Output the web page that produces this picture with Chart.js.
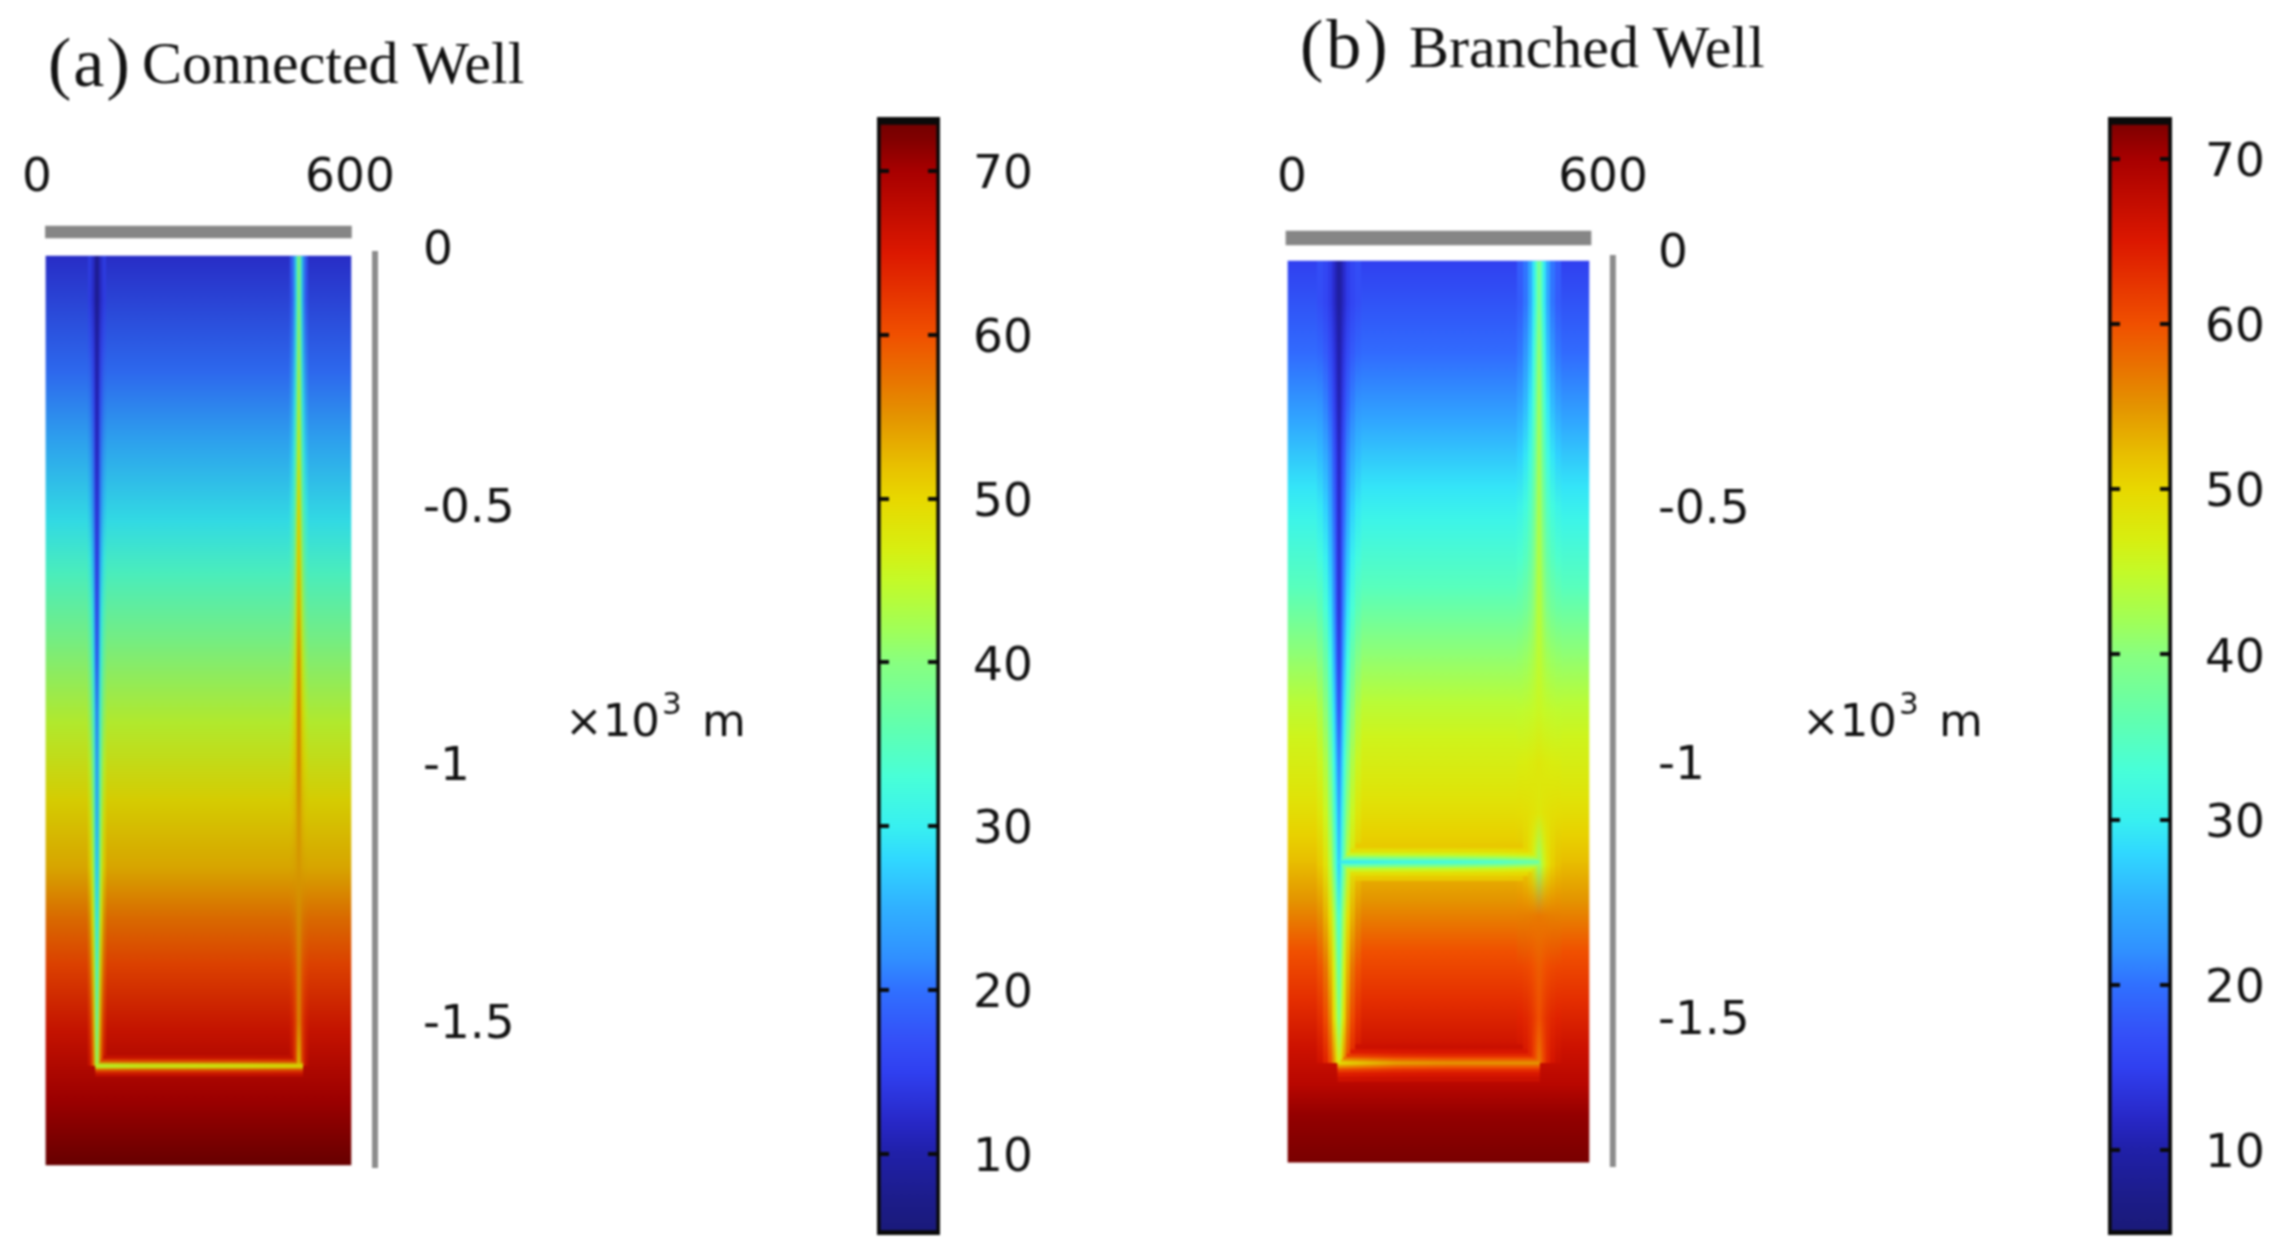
<!DOCTYPE html>
<html><head><meta charset="utf-8">
<script src="https://cdn.jsdelivr.net/npm/chart.js@4"></script>
<style>
html,body{margin:0;padding:0;background:#fff;width:2289px;height:1259px;overflow:hidden}
#page{position:absolute;left:0;top:0;width:2289px;height:1259px;filter:blur(0.8px)}
canvas{position:absolute}
.t{position:absolute;white-space:nowrap;line-height:1;color:#111}
.serif{font-family:"Liberation Serif",serif}
.sans{font-family:"DejaVu Sans",sans-serif}
sup{font-size:31px;position:relative;top:-22px;vertical-align:baseline;margin-left:2px;margin-right:6px}
</style></head><body><div id="page"></div>
<script>
// ---- colour scale (temperature -> colour)
const colorValues=[5,7,10,12,15,17,20,22,25,28,30,33,36,40,42,45,47,50,52,55,57,60,65,70,72,74];
const colorHexes=['#1a1a78','#1c1c88','#2020a8','#2828c8','#3040f0','#3450f8','#3070ff','#3090ff','#30b0ff','#30d8ff','#38f0f0','#48ffd8','#60ffb0','#88ff80','#a0ff58','#c4fa28','#d8ee10','#e8d800','#e8c000','#e49400','#e87800','#f05000','#dc1800','#a80000','#800000','#660000'];

// ---- tick labels
const depthTicks=[0,-0.5,-1,-1.5];
const widthTicks=[0,600];
const barTicks=[10,20,30,40,50,60,70];

// ---- panel (a) connected well
const aFarDepth=[0.015,0.24,0.37,0.53,0.63,0.76,0.92,1.07,1.2,1.3,1.39,1.52,1.65,1.78];
const aFarTemp=[13,20,24.5,29.5,34,39,44.5,49.5,53,57.5,61,66,70,73.5];
const wellDepth=[0,0.1,0.2,0.3,0.4,0.5,0.6,0.7,0.8,0.9,1.0,1.1,1.2,1.3,1.4,1.5,1.585];
const aInjectionTemp=[8,9,10.5,11.5,12.5,14,15,17,19,22,24.5,26,28,31,35,39,43];
const aProductionTemp=[36,39,41,43,45,48,50,52,54,55,55,54,54,55,56,56,52];
const aBottomX=[112,200,300,400,510];
const aBottomTemp=[45,46.5,47,48,49.5];

// ---- panel (b) branched well
const bFarDepth=[0.02,0.2,0.33,0.46,0.526,0.657,0.786,0.88,0.95,1.07,1.14,1.19,1.27,1.37,1.465,1.56,1.63,1.69,1.785];
const bFarTemp=[15,19.5,24,29,31,35,40.5,44,46,48.5,50.5,52,55,60,63,66.5,68.5,71,72.6];
const bInjectionTemp=[8,9,10,10.5,11.5,12,12.5,13,14.5,17,21,24,27,33,36,39,46];
const bProductionTemp=[37,39,41,42,42.5,43,43.5,44,44.5,45.5,48,48,41,57,59,60,57];
const bBranchX=[90,200,300,400,478];
const bBranchTemp=[29,31,32,34,37];
const bBottomX=[88,200,300,400,478];
const bBottomTemp=[49,54,55,55,55];

// ---- halo bands round a well: [line width, share of the surrounding temperature]
const aBands=[[18,0.9],[12,0.7],[7,0.4],[3.5,0]];
const bBands=[[44,0.95],[32,0.85],[22,0.68],[14,0.45],[8,0.22],[3,0]];

function hexRgb(h){return [1,3,5].map(i=>parseInt(h.substr(i,2),16));}
function lookup(xs,ys,v){
  if(v<=xs[0])return ys[0];
  for(let i=1;i<xs.length;i++)if(v<=xs[i]){const f=(v-xs[i-1])/(xs[i]-xs[i-1]);return ys[i-1]+(ys[i]-ys[i-1])*f;}
  return ys[ys.length-1];
}
function cm(T,gain){
  let i=1;while(i<colorValues.length-1&&T>colorValues[i])i++;
  const f=Math.max(0,Math.min(1,(T-colorValues[i-1])/(colorValues[i]-colorValues[i-1])));
  const a=hexRgb(colorHexes[i-1]),b=hexRgb(colorHexes[i]);
  const c=a.map((v,k)=>Math.round((v+(b[k]-v)*f)*gain));
  return `rgb(${c[0]},${c[1]},${c[2]})`;
}

function fieldGradient(chart,depths,temps,gain){
  const s=chart.scales.y;
  const y0=s.getPixelForValue(-depths[0]),y1=s.getPixelForValue(-depths[depths.length-1]);
  const g=chart.ctx.createLinearGradient(0,y0,0,y1);
  depths.forEach((d,i)=>g.addColorStop((s.getPixelForValue(-d)-y0)/(y1-y0),cm(temps[i],gain)));
  return g;
}
function noPad(s){s.paddingTop=0;s.paddingBottom=0;s.paddingLeft=0;s.paddingRight=0;}

function panel(cfg){
  const ds=[];
  let order=1000;
  ds.push({type:'bar',grouped:false,barThickness:cfg.fieldW,barPercentage:1,categoryPercentage:1,order:order--,
    data:[{x:cfg.cx,y:[-cfg.fieldBottom,-cfg.fieldTop]}],
    backgroundColor:c=>c.chart.chartArea?fieldGradient(c.chart,cfg.farDepth,cfg.farTemp,cfg.gain):'#000'});
  ds.push({type:'bar',grouped:false,barThickness:cfg.barW,barPercentage:1,categoryPercentage:1,order:order--,
    data:[{x:cfg.cx,y:cfg.greyBar}],backgroundColor:'#868686'});
  ds.push({type:'line',order:order--,borderColor:'#8c8c8c',borderWidth:6,pointRadius:0,
    data:cfg.axisLine.map(p=>({x:cfg.axisX,y:p}))});
  cfg.bands.forEach(([w,share])=>{
    cfg.vertical.forEach(well=>{
      const end=wellDepth.filter(d=>d<=well.to);
      const temp=d=>{const t=lookup(wellDepth,well.temps,d);const far=lookup(cfg.farDepth,cfg.farTemp,d);return t+(far-t)*share;};
      ds.push({type:'line',order:order--,borderWidth:w,pointRadius:0,borderCapStyle:'butt',
        data:[cfg.fieldTop].concat(end.slice(1)).map(d=>({x:well.x,y:-d})).concat([{x:well.x,y:-well.to}]),
        borderColor:c=>{
          if(!c.chart.chartArea)return '#000';
          const s=c.chart.scales.y,y0=s.getPixelForValue(-cfg.fieldTop),y1=s.getPixelForValue(-well.to);
          const g=c.chart.ctx.createLinearGradient(0,y0,0,y1);
          end.forEach(d=>{const p=(s.getPixelForValue(-d)-y0)/(y1-y0);if(p>=0&&p<=1)g.addColorStop(p,cm(temp(d),cfg.gain));});
          return g;}});
    });
    cfg.horizontal.forEach(well=>{
      const far=lookup(cfg.farDepth,cfg.farTemp,well.depth);
      ds.push({type:'line',order:order--,borderWidth:w*cfg.hFactor,pointRadius:0,borderCapStyle:'butt',
        data:well.xs.map(x=>({x,y:-well.depth})),
        borderColor:c=>{
          if(!c.chart.chartArea)return '#000';
          const s=c.chart.scales.x,n=well.xs.length,x0=s.getPixelForValue(well.xs[0]),x1=s.getPixelForValue(well.xs[n-1]);
          const g=c.chart.ctx.createLinearGradient(x0,0,x1,0);
          well.xs.forEach((x,i)=>g.addColorStop((s.getPixelForValue(x)-x0)/(x1-x0),cm(well.temps[i]+(far-well.temps[i])*share,cfg.gain)));
          return g;}});
    });
  });
  const canvas=document.createElement('canvas');
  canvas.width=cfg.box[2];canvas.height=1259;
  canvas.style.cssText=`left:${cfg.box[0]}px;top:0;width:${cfg.box[2]}px;height:1259px`;
  document.getElementById('page').appendChild(canvas);
  new Chart(canvas,{data:{datasets:ds},options:{
    responsive:false,animation:false,devicePixelRatio:1,
    layout:{padding:{left:cfg.plotLeft-cfg.box[0],right:0,top:0,bottom:1259-1175}},
    plugins:{legend:{display:false},tooltip:{enabled:false}},
    scales:{
      x:{type:'linear',position:'top',offset:false,min:cfg.xRange[0],max:cfg.xRange[1],
        grid:{display:false},border:{display:false},
        afterBuildTicks:s=>{s.ticks=widthTicks.map(v=>({value:v}));},
        afterFit:s=>{s.height=225;noPad(s);},
        ticks:{padding:10,maxRotation:0,autoSkip:false,color:'#111',font:{family:'DejaVu Sans',size:47},callback:v=>String(v)}},
      y:{type:'linear',position:'right',min:cfg.yRange[0],max:cfg.yRange[1],
        grid:{display:false},border:{display:false},
        afterBuildTicks:s=>{s.ticks=depthTicks.map(v=>({value:v}));},
        afterFit:s=>{s.width=cfg.box[0]+cfg.box[2]-cfg.plotRight;noPad(s);},
        ticks:{padding:cfg.labelPad,labelOffset:4,autoSkip:false,color:'#111',font:{family:'DejaVu Sans',size:47},callback:v=>String(v)}}
    }}});
}

function colourBar(cfg){
  const canvas=document.createElement('canvas');
  canvas.width=cfg.box[2];canvas.height=1259;
  canvas.style.cssText=`left:${cfg.box[0]}px;top:0;width:${cfg.box[2]}px;height:1259px`;
  document.getElementById('page').appendChild(canvas);
  new Chart(canvas,{type:'bar',data:{labels:['T'],datasets:[{
      data:[[cfg.range[0],cfg.range[1]]],barPercentage:1,categoryPercentage:1,
      borderColor:'#0a0a0a',borderWidth:{top:8,left:4,right:4,bottom:5},borderSkipped:false,
      backgroundColor:c=>{
        if(!c.chart.chartArea)return '#000';
        const s=c.chart.scales.y,y0=s.getPixelForValue(cfg.range[0]),y1=s.getPixelForValue(cfg.range[1]);
        const g=c.chart.ctx.createLinearGradient(0,y0,0,y1);
        colorValues.forEach((v,i)=>{if(v>=cfg.range[0]&&v<=cfg.range[1])g.addColorStop((s.getPixelForValue(v)-y0)/(y1-y0),colorHexes[i]);});
        g.addColorStop(0,cm(cfg.range[0],1));g.addColorStop(1,cm(cfg.range[1],1));
        return g;}
    }]},options:{
    responsive:false,animation:false,devicePixelRatio:1,
    layout:{padding:{left:cfg.plotLeft-cfg.box[0],right:0,top:117,bottom:1259-1235}},
    plugins:{legend:{display:false},tooltip:{enabled:false}},
    scales:{
      x:{display:false},
      y:{type:'linear',position:'right',min:cfg.range[0],max:cfg.range[1],
        border:{display:false,dash:[12,cfg.gap,12,0]},
        grid:{z:1,color:'#0a0a0a',lineWidth:4,drawTicks:false},
        afterBuildTicks:s=>{s.ticks=barTicks.map(v=>({value:v}));},
        afterFit:s=>{s.width=cfg.box[0]+cfg.box[2]-cfg.plotRight;noPad(s);},
        ticks:{padding:33,labelOffset:5,autoSkip:false,color:'#111',font:{family:'DejaVu Sans',size:47},callback:v=>String(v)}}
    }}});
}

panel({box:[0,0,560],plotLeft:37,plotRight:380,xRange:[0,657.6],yRange:[-1.7965,0.0446],labelPad:35,hFactor:1.15,
  cx:309.5,fieldW:305,barW:306,fieldTop:0.0155,fieldBottom:1.777,greyBar:[0.0194,0.0426],
  axisX:648,axisLine:[-0.006,-1.783],gain:0.93,farDepth:aFarDepth,farTemp:aFarTemp,bands:aBands,
  vertical:[{x:115,to:1.585,temps:aInjectionTemp},{x:502,to:1.585,temps:aProductionTemp}],
  horizontal:[{depth:1.585,xs:aBottomX,temps:aBottomTemp}]});
panel({box:[1144,0,760],plotLeft:1280,plotRight:1620,xRange:[-23.15,632.8],yRange:[-1.807,0.0508],labelPad:30,hFactor:0.85,
  cx:282.6,fieldW:301,barW:305,fieldTop:0.0196,fieldBottom:1.782,greyBar:[0.0117,0.039],
  axisX:619,axisLine:[-0.008,-1.7915],gain:1,farDepth:bFarDepth,farTemp:bFarTemp,bands:bBands,
  vertical:[{x:90.7,to:1.588,temps:bInjectionTemp},{x:476.6,to:1.588,temps:bProductionTemp}],
  horizontal:[{depth:1.195,xs:bBranchX,temps:bBranchTemp},{depth:1.588,xs:bBottomX,temps:bBottomTemp}]});
colourBar({box:[860,0,200],plotLeft:877,plotRight:940,range:[5.05,73.3],gap:39});
colourBar({box:[2091,0,198],plotLeft:2108,plotRight:2172,range:[4.85,72.54],gap:40});

// ---- text labels
const page=document.getElementById('page');
function text(cls,x,y,size,html,extra){
  const d=document.createElement('div');d.className='t '+cls;
  d.style.cssText=`left:${x}px;top:${y}px;font-size:${size}px;`+(extra||'');d.innerHTML=html;page.appendChild(d);
}
text('serif',48,28,70,'(a)','letter-spacing:2px');
text('serif',142,33,60,'Connected Well');
text('serif',1300,10,70,'(b)','letter-spacing:3px');
text('serif',1409,17,60,'Branched Well');
text('sans',565,698,45,'×10<sup>3</sup> m');
text('sans',1802,698,45,'×10<sup>3</sup> m');
</script></body></html>
